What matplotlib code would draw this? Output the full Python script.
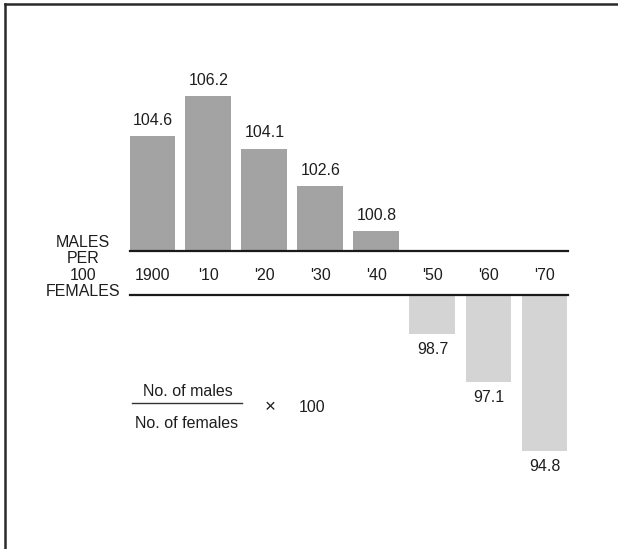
import matplotlib
matplotlib.use("Agg")
import matplotlib.pyplot as plt

plt.rcParams['font.family'] = ['Liberation Sans', 'DejaVu Sans']

years = ["1900", "'10", "'20", "'30", "'40", "'50", "'60", "'70"]
ratios = [104.6, 106.2, 104.1, 102.6, 100.8, 98.7, 97.1, 94.8]
value_labels = ["104.6", "106.2", "104.1", "102.6", "100.8", "98.7", "97.1", "94.8"]

W, H = 618, 549
fig = plt.figure(figsize=(W / 100, H / 100), dpi=100)

def px_rect(x0, y0, x1, y1):
    return [x0 / W, 1 - y1 / H, (x1 - x0) / W, (y1 - y0) / H]

xl = (-0.40, 7.42)
top_px, base_top = 60, 251
base_bot, bot_px = 295, 490
scale_top = 25.0
scale_bot = 30.0

ax_top = fig.add_axes(px_rect(130, top_px, 568, base_top))
ax_bot = fig.add_axes(px_rect(130, base_bot, 568, bot_px))
ax_top.set_xlim(*xl)
ax_bot.set_xlim(*xl)
ax_top.set_ylim(100, 100 + (base_top - top_px) / scale_top)
ax_bot.set_ylim(100 - (bot_px - base_bot) / scale_bot, 100)
for a in (ax_top, ax_bot):
    a.axis('off')

fs = 11.5
tc = '#1e1e1e'
for i, (v, lab) in enumerate(zip(ratios, value_labels)):
    if v >= 100:
        ax_top.bar(i, v - 100, bottom=100, width=0.82, color='#a3a3a3')
        ax_top.annotate(lab, (i, v), xytext=(0, 6), textcoords='offset points',
                        ha='center', va='bottom', fontsize=fs, color=tc)
    else:
        ax_bot.bar(i, v - 100, bottom=100, width=0.82, color='#d4d4d4')
        ax_bot.annotate(lab, (i, v), xytext=(0, -6), textcoords='offset points',
                        ha='center', va='top', fontsize=fs, color=tc)

# baselines
ax_top.axhline(100, color='#1a1a1a', lw=1.6, clip_on=False)
ax_bot.axhline(100, color='#1a1a1a', lw=1.6, clip_on=False)

# year labels between baselines
for i, y in enumerate(years):
    fig.text(ax_top.transData.transform((i, 0))[0] / W, 1 - 275 / H, y,
             ha='center', va='center', fontsize=fs, color=tc)

fig.text(83 / W, 1 - 267 / H, "MALES\nPER\n100\nFEMALES", ha='center', va='center',
         fontsize=fs, color=tc, linespacing=1.13)

# formula
fig.text(188 / W, 1 - 392 / H, "No. of males", ha='center', va='center', fontsize=fs, color=tc)
fig.text(187 / W, 1 - 423 / H, "No. of females", ha='center', va='center', fontsize=fs, color=tc)
fig.add_artist(plt.Line2D([132 / W, 242 / W], [1 - 403 / H, 1 - 403 / H], color='#333333', lw=1.0))
fig.text(270 / W, 1 - 408 / H, "×", ha='center', va='center', fontsize=fs + 2, color=tc)
fig.text(312 / W, 1 - 408 / H, "100", ha='center', va='center', fontsize=fs, color=tc)

# frame (top and left)
fig.add_artist(plt.Line2D([5 / W, 1], [1 - 4 / H, 1 - 4 / H], color='#2a2a2a', lw=1.8))
fig.add_artist(plt.Line2D([5 / W, 5 / W], [0, 1 - 4 / H], color='#2a2a2a', lw=1.8))

fig.savefig("out.png", dpi=100)
